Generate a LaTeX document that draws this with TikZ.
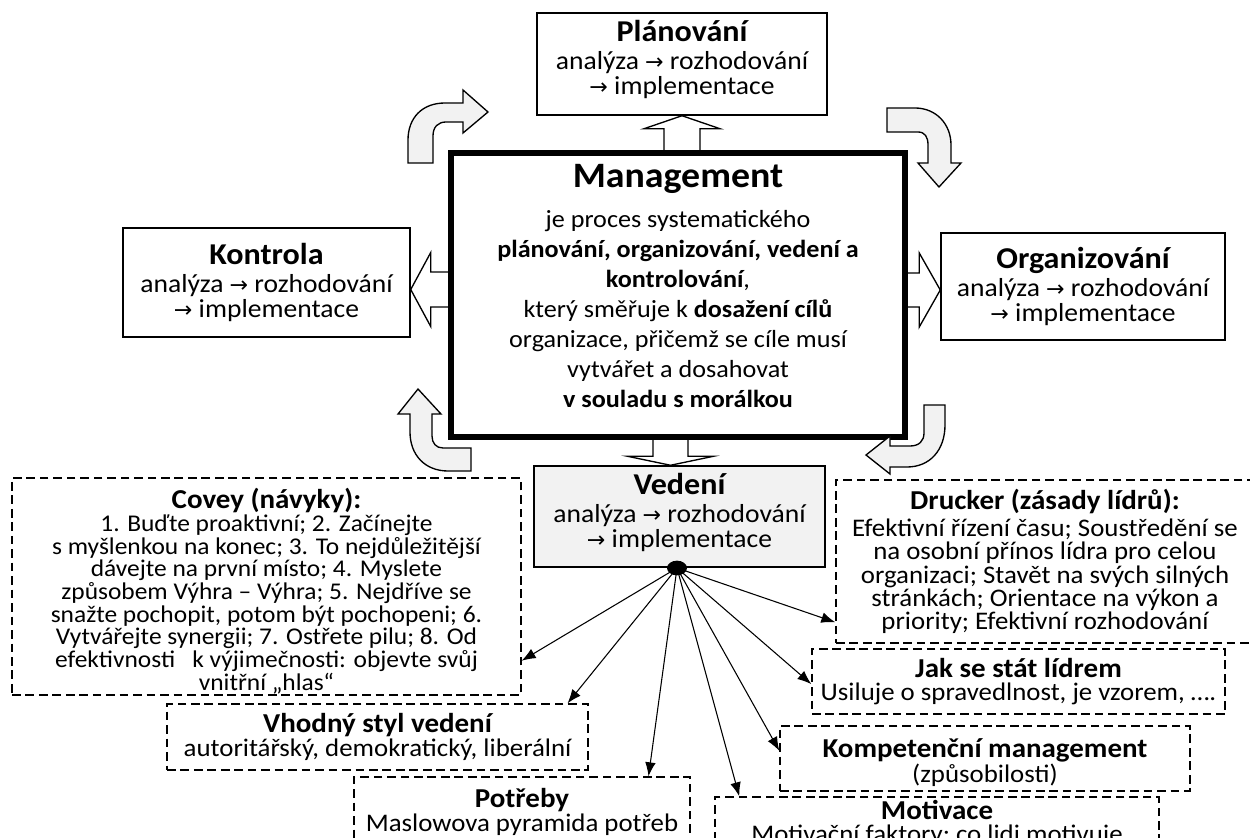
\documentclass[tikz,border=0pt]{standalone}
\usepackage{fontspec}
\setmainfont{Carlito}[FakeStretch=1.06]
\newfontfamily\arrowfont{DejaVu Sans}[Scale=0.85]
\usetikzlibrary{calc,arrows.meta,shapes.geometric,backgrounds}
\definecolor{bendgrey}{HTML}{F2F2F2}
\definecolor{leadgrey}{HTML}{F2F2F2}
\newcommand\nextstep{{\arrowfont →}}
\newcommand\stitle[1]{{\fontsize{22.7}{18}\selectfont\bfseries #1}}
\newcommand\dtitle[1]{{\fontsize{20.5}{17.5}\selectfont\bfseries #1}}
\newcommand\mtitle[1]{{\fontsize{26.8}{23}\selectfont\bfseries #1}}
\newcommand\solidfont{\fontsize{19.5}{18.75}\selectfont}
\newcommand\mainfont{\fontsize{18.5}{22.5}\selectfont}
\newcommand\dashfont{\fontsize{19}{17.5}\selectfont}
\newcommand\coveyfont{\fontsize{18}{17}\selectfont}
% invisible struts that move a text block inside its box
\newcommand\deepen[1]{\rule[-#1]{0pt}{#1}}
\newcommand\heighten[1]{\rule{0pt}{#1}}
\begin{document}
\lineskiplimit=-30pt\relax
\lineskip=0pt\relax
\begin{tikzpicture}[x=0.75pt, y=-0.75pt,
  every node/.style={inner sep=0pt, align=center},
  solidbox/.style={draw, line width=1.1pt, fill=white, font=\solidfont},
  mainbox/.style={draw, line width=4.5pt, fill=white, font=\mainfont},
  dashbox/.style={draw, line width=1pt, dash pattern=on 6.5pt off 3.6pt, font=\dashfont},
  blockarrow/.style={draw, fill=white, line width=1pt, line join=miter},
  bendarrow/.style={draw, fill=bendgrey, line width=1pt, line join=miter},
  conn/.style={draw, line width=0.8pt, -{Latex[length=10.5pt, width=8pt]}},
  hubdot/.style={ellipse, fill=black, minimum width=15pt, minimum height=11pt}
]
\useasboundingbox (0,0) rectangle (1250,838);
\clip (0,0) rectangle (1250,838);

% central box
\node[mainbox, minimum width=340.5pt, minimum height=213pt] (main) at (678,295)
  {\mtitle{Management}\\[7.5pt]
   je proces systematického\\
   \textbf{plánování, organizování, vedení a}\\
   \textbf{kontrolování},\\
   který směřuje k \textbf{dosažení cílů}\\
   organizace, přičemž se cíle musí\\
   vytvářet a dosahovat\\
   \textbf{v souladu s morálkou}\deepen{14pt}};

% the four management functions
\node[solidbox, minimum width=217.5pt, minimum height=76.5pt] (plan) at (682,64)
  {\stitle{Plánování}\\[2.25pt] analýza \nextstep{} rozhodování\\ \nextstep{} implementace\deepen{10.5pt}};
\node[solidbox, minimum width=215.25pt, minimum height=81.75pt] (kontrola) at (266.5,282.5)
  {\stitle{Kontrola}\\[2.25pt] analýza \nextstep{} rozhodování\\ \nextstep{} implementace};
\node[solidbox, minimum width=213pt, minimum height=80.25pt] (org) at (1083,286.5)
  {\stitle{Organizování}\\[2.25pt] analýza \nextstep{} rozhodování\\ \nextstep{} implementace};
\node[solidbox, fill=leadgrey, minimum width=218.25pt, minimum height=75.75pt] (vedeni) at (679.5,516.5)
  {\stitle{Vedení}\\[2.25pt] analýza \nextstep{} rozhodování\\ \nextstep{} implementace\deepen{9pt}};

% block arrows from the central box
\begin{pgfonlayer}{background}
\begin{scope}[shift={(plan.south)}]
  \path[blockarrow] (0,0) -- (38,13) -- (18,13) -- (18,42) -- (-18,42) -- (-18,13) -- (-38,13) -- cycle;
\end{scope}
\begin{scope}[shift={($(kontrola.east)+(0,7)$)}]
  \path[blockarrow] (0,0) -- (20,-37) -- (20,-17.5) -- (44,-17.5) -- (44,17.5) -- (20,17.5) -- (20,37) -- cycle;
\end{scope}
\begin{scope}[shift={($(org.west)+(0,3.5)$)}]
  \path[blockarrow] (0,0) -- (-21,-37) -- (-21,-17) -- (-38,-17) -- (-38,17) -- (-21,17) -- (-21,37) -- cycle;
\end{scope}
\begin{scope}[shift={($(vedeni.north)+(-9,0)$)}]
  \path[blockarrow] (0,0) -- (-43,-9) -- (-17.5,-9) -- (-17.5,-36) -- (17.5,-36) -- (17.5,-9) -- (43,-9) -- cycle;
\end{scope}
\end{pgfonlayer}

% cycle arrows round the central box
\path[bendarrow] (408,163) -- (408,140) .. controls (408,118) and (422,103) .. (445,103)
  -- (463,103) -- (463,90) -- (488,112) -- (463,133) -- (463,122) -- (446,122)
  .. controls (438,122) and (433,127) .. (433,136) -- (433,163) -- cycle;
\path[bendarrow] (887,108) -- (915,108) .. controls (936,108) and (951,124) .. (951,145)
  -- (951,163) -- (961,163) -- (939,187) -- (918,163) -- (928,163) -- (928,145)
  .. controls (928,137) and (925,132) .. (918,132) -- (887,132) -- cycle;
\path[bendarrow] (924,405) -- (945,405) -- (945,425) .. controls (945,450) and (930,467) .. (907,467)
  -- (890,467) -- (890,474) -- (866,455) -- (890,436) -- (890,446) -- (910,446)
  .. controls (919,446) and (924,441) .. (924,433) -- cycle;
\path[bendarrow] (471,448) -- (443,448) .. controls (436,448) and (432,443) .. (432,436)
  -- (432,414) -- (441,414) -- (418,389) -- (398,414) -- (410,414) -- (410,432)
  .. controls (410,455) and (425,471) .. (448,471) -- (471,471) -- cycle;

% leadership topics
\node[dashbox, font=\coveyfont, minimum width=381.75pt, minimum height=162.75pt] (covey) at (266.5,586.5)
  {\dtitle{Covey (návyky):}\heighten{22pt}\\
   1. Buďte proaktivní; 2. Začínejte\\
   s myšlenkou na konec; 3. To nejdůležitější\\
   dávejte na první místo; 4. Myslete\\
   způsobem Výhra – Výhra; 5. Nejdříve se\\
   snažte pochopit, potom být pochopeni; 6.\\
   Vytvářejte synergii; 7. Ostřete pilu; 8. Od\\
   efektivnosti\ \ \ k výjimečnosti: objevte svůj\\
   vnitřní „hlas“};
\node[dashbox, minimum width=313.5pt, minimum height=122.25pt] (drucker) at (1045,561.5)
  {\dtitle{Drucker (zásady lídrů):}\\[2.8pt]
   Efektivní řízení času; Soustředění se\\
   na osobní přínos lídra pro celou\\
   organizaci; Stavět na svých silných\\
   stránkách; Orientace na výkon a\\
   priority; Efektivní rozhodování};
\node[dashbox, minimum width=309.75pt, minimum height=48.75pt] (jak) at (1018.5,681.5)
  {\dtitle{Jak se stát lídrem}\\ Usiluje o spravedlnost, je vzorem, ….};
\node[dashbox, minimum width=307.5pt, minimum height=48.75pt] (komp) at (985,758.5)
  {\dtitle{Kompetenční management}\heighten{21pt}\\[1.2pt] (způsobilosti)};
\node[dashbox, minimum width=315.75pt, minimum height=49.5pt] (vhod) at (377.5,737)
  {\dtitle{Vhodný styl vedení}\\ autoritářský, demokratický, liberální};
\node[dashbox, minimum width=252pt, minimum height=52.5pt] (potr) at (522,812)
  {\dtitle{Potřeby}\\ Maslowova pyramida potřeb};
\node[dashbox, minimum width=333pt, minimum height=45pt] (motiv) at (937,827)
  {\dtitle{Motivace}\\ Motivační faktory; co lidi motivuje\deepen{8pt}};

% connectors from the hub under Vedení
\coordinate (hub) at (677,568);
\draw[conn] (hub) -- ($(covey.south east)!0.16!(covey.north east)$);
\draw[conn] (hub) -- ($(vhod.north west)!0.95!(vhod.north east)$);
\draw[conn] (hub) -- ($(potr.north west)!0.875!(potr.north east)$);
\draw[conn] (hub) -- ($(motiv.north west)!0.056!(motiv.north east)$);
\draw[conn] (hub) -- ($(komp.north west)!0.385!(komp.south west)$);
\draw[conn] (hub) -- ($(jak.north west)!0.54!(jak.south west)$);
\draw[conn] (hub) -- ($(drucker.south west)!0.13!(drucker.north west)$);
\node[hubdot] (dot) at (hub) {};
\end{tikzpicture}
\end{document}
